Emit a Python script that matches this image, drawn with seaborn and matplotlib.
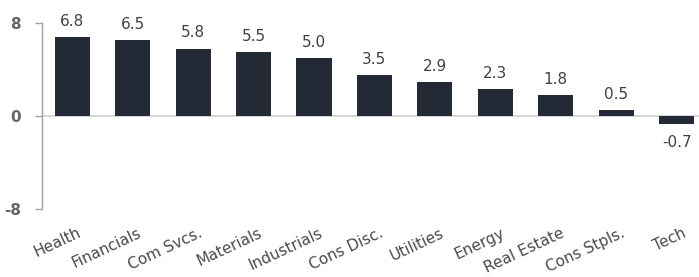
import matplotlib
matplotlib.use("Agg")
import matplotlib.pyplot as plt
import matplotlib.transforms as mtransforms
import seaborn as sns
import pandas as pd

sectors = ["Health", "Financials", "Com Svcs.", "Materials", "Industrials", "Cons Disc.",
           "Utilities", "Energy", "Real Estate", "Cons Stpls.", "Tech"]
values = [6.8, 6.5, 5.8, 5.5, 5.0, 3.5, 2.9, 2.3, 1.8, 0.5, -0.7]
yticks = [-8, 0, 8]

sns.set_theme(style="white")
plt.rcParams['font.family'] = ['DejaVu Sans']

df = pd.DataFrame({"sector": sectors, "value": values})

fig = plt.figure(figsize=(6.99, 2.77), dpi=100)
ax = fig.add_axes([42/699, 1 - 209/277, 1 - 42/699, (209-23)/277])
sns.barplot(data=df, x="sector", y="value", color="#232a36", width=0.58,
            saturation=1, linewidth=0, ax=ax)
ax.set_xlim(-0.5, 10.37)
ax.set_ylim(-8, 8)
ax.axhline(0, color="#d0d0d0", lw=1.2, zorder=0)
for s in ["top", "right", "bottom"]:
    ax.spines[s].set_visible(False)
ax.spines["left"].set_color("#a0a0a0")
ax.spines["left"].set_linewidth(1.0)
ax.set_yticks(yticks)
ax.set_yticklabels([str(t) for t in yticks], fontsize=11, fontweight="bold", color="#666666")
ax.tick_params(axis="y", left=True, length=5, width=1, color="#a0a0a0", pad=10)
ax.tick_params(axis="x", bottom=False, pad=0)
ax.set_xticks(range(len(sectors)))
ax.set_xticklabels(sectors, rotation=25, ha="right", va="top", rotation_mode="anchor",
                   fontsize=11, color="#4a4a4a")
offset = mtransforms.ScaledTranslation(5/100, -8/100, fig.dpi_scale_trans)
for lbl in ax.get_xticklabels():
    lbl.set_transform(lbl.get_transform() + offset)
ax.set_xlabel("")
ax.set_ylabel("")
for i, v in enumerate(values):
    if v >= 0:
        ax.text(i, v + 0.7, f"{v:.1f}", ha="center", va="bottom", fontsize=11, color="#404040")
    else:
        ax.text(i, v - 0.9, f"{v:.1f}", ha="center", va="top", fontsize=11, color="#404040")

fig.savefig("out.png", dpi=100)
